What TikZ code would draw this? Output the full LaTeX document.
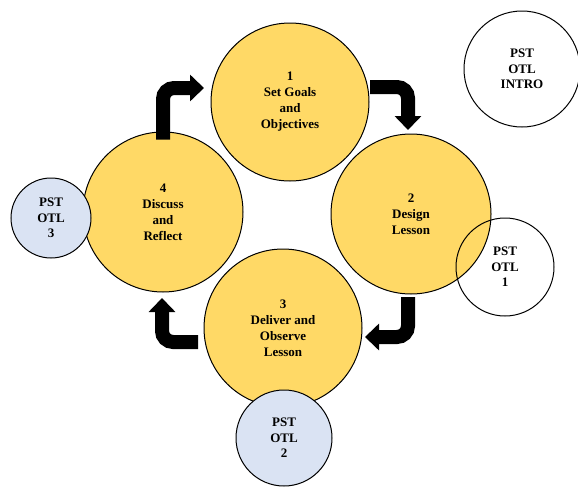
\documentclass[tikz,border=0pt]{standalone}
\usepackage{fontspec}
\setmainfont{Liberation Serif}
\usetikzlibrary{arrows.meta}
\definecolor{stepgold}{HTML}{FFD966}
\definecolor{pstblue}{HTML}{DAE3F3}
\tikzset{
  stage/.style={circle, draw=black, line width=1pt, fill=stepgold, minimum size=158pt,
    inner sep=0pt, align=center, font=\bfseries\fontsize{13pt}{16pt}\selectfont},
  pst/.style={circle, draw=black, line width=1pt, inner sep=0pt, align=center,
    font=\bfseries\fontsize{13pt}{15.5pt}\selectfont},
  bentarrow/.style={line width=14pt, draw=black, rounded corners=11pt,
    -{Triangle[width=26pt,length=14pt]}}
}
\begin{document}
\begin{tikzpicture}[x=1pt,y=-1pt]
  \useasboundingbox (0,0) rectangle (578,490);
  % the four stages of the cycle
  \node[stage] (c1) at (290,102) {1\\Set Goals\\and\\Objectives};
  \node[stage, minimum size=160pt] (c2) at (411,214) {2\\Design\\Lesson};
  \node[stage] (c3) at (283,328) {3\\Deliver and\\Observe\\Lesson};
  \node[stage, minimum size=160pt] (c4) at (163,212) {4\\Discuss\\and\\Reflect};
  % observation circles
  \node[pst, minimum size=116pt] (p0) at (522,69) {PST\\OTL\\INTRO};
  \node[pst, minimum size=98pt] (p1) at (505,267) {PST\\OTL\\1};
  \node[pst, fill=pstblue, minimum size=96pt] (p2) at (284,438) {PST\\OTL\\2};
  \node[pst, fill=pstblue, minimum size=80pt] (p3) at (51,218) {PST\\OTL\\3};
  % bent arrows between the stages
  \coordinate (a1s) at ([yshift=-8pt]c4.north);
  \coordinate (a1e) at (204,88);
  \coordinate (a2s) at (370,87);
  \coordinate (a2e) at (408,130);
  \coordinate (a3s) at (408,297);
  \coordinate (a3e) at (365,337);
  \coordinate (a4s) at (198,342);
  \coordinate (a4e) at (162,298);
  \draw[bentarrow] (a1s) |- (a1e);
  \draw[bentarrow] (a2s) -| (a2e);
  \draw[bentarrow] (a3s) |- (a3e);
  \draw[bentarrow] (a4s) -| (a4e);
\end{tikzpicture}
\end{document}
